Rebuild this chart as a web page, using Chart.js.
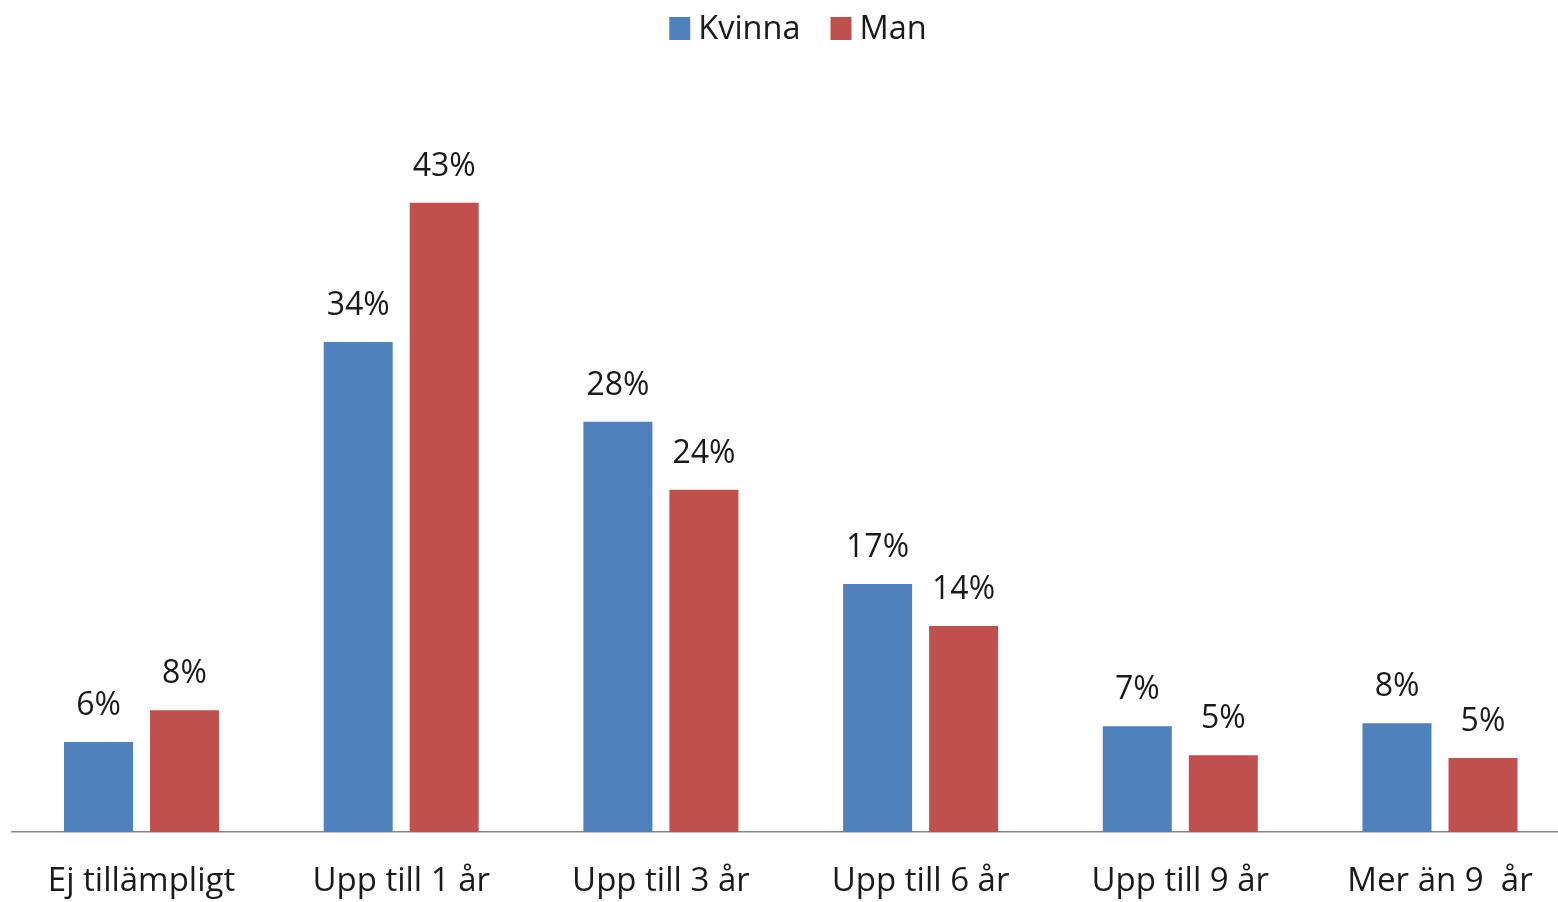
<!DOCTYPE html>
<html>
<head>
<meta charset="utf-8">
<script src="https://cdn.jsdelivr.net/npm/chart.js@4.4.1/dist/chart.umd.min.js"></script>
<style>
  html, body { margin: 0; padding: 0; background: #fff; overflow: hidden; }
  #wrap { position: absolute; left: 0; top: 0; width: 1572px; height: 902px; }
</style>
</head>
<body>
<div id="wrap"><canvas id="c" width="1572" height="902"></canvas></div>
<script>
const categories = ['Ej tillämpligt', 'Upp till 1 år', 'Upp till 3 år', 'Upp till 6 år', 'Upp till 9 år', 'Mer än 9  år'];
const seriesNames = ['Kvinna', 'Man'];
const kvinna = [6.2, 33.8, 28.3, 17.1, 7.3, 7.5];
const man = [8.4, 43.4, 23.6, 14.2, 5.3, 5.1];
const colors = ['#4F81BD', '#C0504D'];

const FONT = '"Open Sans", "DejaVu Sans", sans-serif';
const TEXT = '#1a1a1a';

const valueLabels = {
  id: 'valueLabels',
  afterDatasetsDraw(chart) {
    const ctx = chart.ctx;
    ctx.save();
    ctx.font = '32px ' + FONT;
    ctx.fillStyle = TEXT;
    ctx.textAlign = 'center';
    ctx.textBaseline = 'alphabetic';
    chart.data.datasets.forEach((ds, i) => {
      const meta = chart.getDatasetMeta(i);
      meta.data.forEach((bar, j) => {
        ctx.fillText(Math.round(ds.data[j]) + '%', bar.x, bar.y - 27);
      });
    });
    ctx.restore();
  }
};

const topLegend = {
  id: 'topLegend',
  afterDraw(chart) {
    const ctx = chart.ctx;
    ctx.save();
    ctx.font = '32.5px ' + FONT;
    const box = 21, gap = 8, spacing = 30;
    const items = chart.data.datasets.map(ds => ({ label: ds.label, color: ds.backgroundColor, w: ctx.measureText(ds.label).width }));
    let total = items.reduce((s, it) => s + box + gap + it.w, 0) + spacing * (items.length - 1);
    let x = 798 - total / 2;
    ctx.textBaseline = 'alphabetic';
    ctx.textAlign = 'left';
    items.forEach(it => {
      ctx.fillStyle = it.color;
      ctx.fillRect(x, 17, box, 23);
      ctx.fillStyle = TEXT;
      ctx.fillText(it.label, x + box + gap, 39);
      x += box + gap + it.w + spacing;
    });
    ctx.restore();
  }
};

new Chart(document.getElementById('c'), {
  type: 'bar',
  data: {
    labels: categories,
    datasets: [
      { label: seriesNames[0], data: kvinna, backgroundColor: colors[0], categoryPercentage: 0.6623, barPercentage: 0.8023 },
      { label: seriesNames[1], data: man, backgroundColor: colors[1], categoryPercentage: 0.6623, barPercentage: 0.8023 }
    ]
  },
  options: {
    responsive: false,
    devicePixelRatio: 1,
    animation: false,
    layout: { padding: { left: 11.65, right: 2.15, top: 107, bottom: 0 } },
    plugins: { legend: { display: false }, tooltip: { enabled: false } },
    scales: {
      x: {
        grid: { display: false, drawTicks: false },
        border: { display: true, color: '#868686', width: 1.5 },
        ticks: { color: TEXT, font: { family: FONT, size: 33 }, padding: 30, maxRotation: 0, autoSkip: false },
        afterFit: s => { s.height = 70; }
      },
      y: { display: false, min: 0, max: 50 }
    }
  },
  plugins: [valueLabels, topLegend]
});
</script>
</body>
</html>
